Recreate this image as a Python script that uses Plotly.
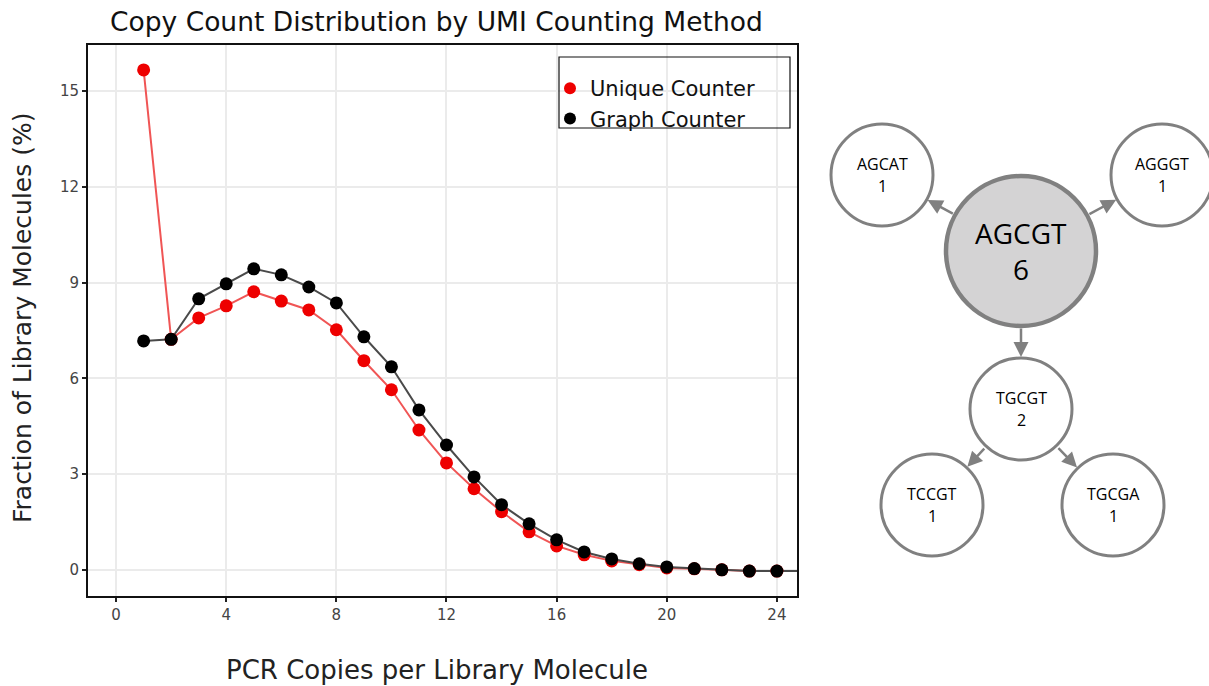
import plotly.graph_objects as go

# PCR copies per library molecule
copies = list(range(1, 27))

# Fraction of library molecules (%) per copy count
unique_counter = [15.66, 7.22, 7.89, 8.27, 8.71, 8.42, 8.14, 7.52, 6.55, 5.64,
                  4.38, 3.35, 2.54, 1.82, 1.19, 0.75, 0.47, 0.28, 0.16, 0.06,
                  0.03, 0.0, -0.04, -0.04, -0.04, -0.04]
graph_counter = [7.17, 7.22, 8.49, 8.96, 9.43, 9.24, 8.86, 8.36, 7.30, 6.36,
                 5.01, 3.91, 2.91, 2.04, 1.44, 0.94, 0.56, 0.34, 0.19, 0.09,
                 0.04, 0.0, -0.04, -0.04, -0.04, -0.04]

x_ticks = [0, 4, 8, 12, 16, 20, 24]
y_ticks = [0, 3, 6, 9, 12, 15]

# UMI network: sequence and read count for each node, and directed edges
node_seqs = ["AGCGT", "AGCAT", "AGGGT", "TGCGT", "TCCGT", "TGCGA"]
node_counts = [6, 1, 1, 2, 1, 1]
edges = [("AGCGT", "AGCAT"), ("AGCGT", "AGGGT"), ("AGCGT", "TGCGT"),
         ("TGCGT", "TCCGT"), ("TGCGT", "TGCGA")]

# Layout of the network drawing (pixel-like units on the second axes)
W, H = 1209, 686
NET_X0 = 810
node_pos = {"AGCGT": (1021, 251), "AGCAT": (882, 175), "AGGGT": (1162, 175),
            "TGCGT": (1021, 409), "TCCGT": (932, 505), "TGCGA": (1113, 505)}
big_r, small_r = 75, 51

RED, RED_LINE = "#ee0000", "#f05555"
BLACK, BLACK_LINE = "#000000", "#4a4a4a"
GRAY = "#808080"
FONT = "DejaVu Sans"

fig = go.Figure()

# Connecting lines
fig.add_trace(go.Scatter(x=copies, y=unique_counter, mode="lines",
                         line=dict(color=RED_LINE, width=2), showlegend=False,
                         hoverinfo="skip"))
fig.add_trace(go.Scatter(x=copies, y=graph_counter, mode="lines",
                         line=dict(color=BLACK_LINE, width=2), showlegend=False,
                         hoverinfo="skip"))
# Points
fig.add_trace(go.Scatter(x=copies, y=unique_counter, mode="markers",
                         name="Unique Counter",
                         marker=dict(color=RED, size=13)))
fig.add_trace(go.Scatter(x=copies, y=graph_counter, mode="markers",
                         name="Graph Counter",
                         marker=dict(color=BLACK, size=13)))

x0, x1 = 88, 797
y0, y1 = 45, 596
fig.update_layout(
    width=W, height=H,
    margin=dict(l=0, r=0, t=0, b=0),
    paper_bgcolor="white", plot_bgcolor="white",
    font=dict(family=FONT, color="#222222"),
    showlegend=True,
    legend=dict(x=550 / W, y=1 - 68 / H, xanchor="left", yanchor="top",
                bgcolor="rgba(0,0,0,0)", borderwidth=0,
                font=dict(family=FONT, size=21, color="#111111"),
                itemsizing="constant", tracegroupgap=0),
    xaxis=dict(domain=[x0 / W, x1 / W], range=[-1.02, 24.73],
               tickvals=x_ticks, ticks="outside", ticklen=4, tickwidth=1.5,
               tickcolor="#222222",
               tickfont=dict(family=FONT, size=15, color="#444444"),
               showgrid=True, gridcolor="#ebebeb", gridwidth=1.5,
               zeroline=False, showline=True, linecolor="#111111",
               linewidth=2, mirror=True),
    yaxis=dict(domain=[1 - y1 / H, 1 - y0 / H], range=[-0.82, 16.44],
               tickvals=y_ticks, ticks="outside", ticklen=4, tickwidth=1.5,
               tickcolor="#222222",
               tickfont=dict(family=FONT, size=15, color="#444444"),
               showgrid=True, gridcolor="#ebebeb", gridwidth=1.5,
               zeroline=False, showline=True, linecolor="#111111",
               linewidth=2, mirror=True),
    xaxis2=dict(domain=[NET_X0 / W, 1], range=[NET_X0, W], visible=False,
                fixedrange=True, anchor="y2"),
    yaxis2=dict(domain=[0, 1], range=[H, 0], visible=False,
                fixedrange=True, anchor="x2"),
)

# Legend frame
fig.add_shape(type="rect", xref="paper", yref="paper",
              x0=559 / W, x1=790 / W, y0=1 - 128 / H, y1=1 - 57 / H,
              line=dict(color="#111111", width=1.2), fillcolor="rgba(0,0,0,0)",
              layer="above")

# Titles
fig.add_annotation(text="Copy Count Distribution by UMI Counting Method",
                   xref="paper", yref="paper", x=436 / W, y=1 - 22 / H,
                   xanchor="center", yanchor="middle",
                   showarrow=False, font=dict(family=FONT, size=26.5,
                                              color="#111111"))
fig.add_annotation(text="PCR Copies per Library Molecule",
                   xref="paper", yref="paper", x=437 / W, y=1 - 670 / H,
                   xanchor="center", yanchor="middle",
                   showarrow=False, font=dict(family=FONT, size=26,
                                              color="#222222"))
fig.add_annotation(text="Fraction of Library Molecules (%)",
                   xref="paper", yref="paper", x=22 / W, y=1 - 318 / H,
                   xanchor="center", yanchor="middle",
                   textangle=-90, showarrow=False,
                   font=dict(family=FONT, size=25, color="#222222"))

# Network nodes
for seq, count in zip(node_seqs, node_counts):
    cx, cy = node_pos[seq]
    is_root = count == max(node_counts)
    r = big_r if is_root else small_r
    fig.add_shape(type="circle", xref="x2", yref="y2",
                  x0=cx - r, x1=cx + r, y0=cy - r, y1=cy + r,
                  line=dict(color=GRAY, width=4.5 if is_root else 3),
                  fillcolor="#d4d3d4" if is_root else "white", layer="above")
    size = 28 if is_root else 16
    gap = 18 if is_root else 11
    fig.add_annotation(text=seq, xref="x2", yref="y2", x=cx, y=cy - gap,
                       showarrow=False,
                       font=dict(family="Open Sans", size=size,
                                 color="#000000"))
    fig.add_annotation(text=str(count), xref="x2", yref="y2", x=cx,
                       y=cy + gap, showarrow=False,
                       font=dict(family="Open Sans", size=size,
                                 color="#000000"))

# Network edges as arrows between circle boundaries
for src, dst in edges:
    sx, sy = node_pos[src]
    dx, dy = node_pos[dst]
    vx, vy = dx - sx, dy - sy
    d = (vx ** 2 + vy ** 2) ** 0.5
    ux, uy = vx / d, vy / d
    rs = big_r if node_counts[node_seqs.index(src)] == max(node_counts) else small_r
    rd = small_r
    fig.add_annotation(xref="x2", yref="y2", axref="x2", ayref="y2",
                       ax=sx + ux * (rs + 1), ay=sy + uy * (rs + 1),
                       x=dx - ux * (rd + 1), y=dy - uy * (rd + 1),
                       text="", showarrow=True, arrowhead=2, arrowsize=1.2,
                       arrowwidth=2.5, arrowcolor=GRAY)

# Empty trace so the second axes are laid out
fig.add_trace(go.Scatter(x=[], y=[], xaxis="x2", yaxis="y2",
                         showlegend=False))

fig.write_html("out.html")
